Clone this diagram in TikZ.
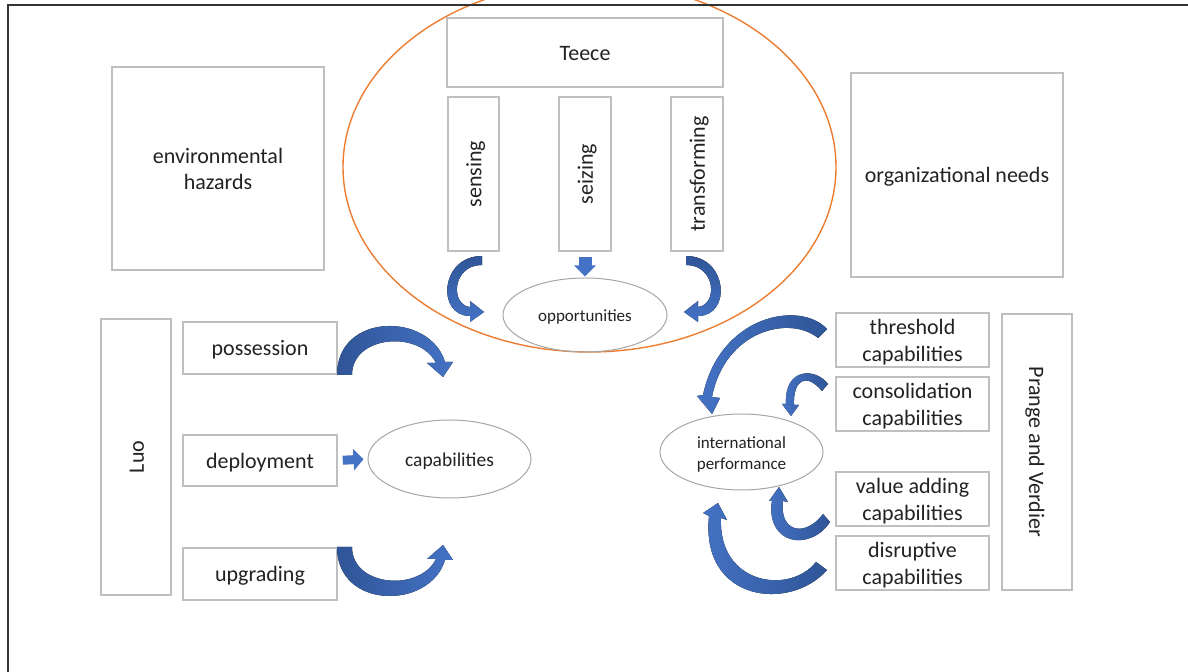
\documentclass[tikz,border=0pt]{standalone}
\usepackage{fontspec}
\setmainfont{Carlito}
\usetikzlibrary{shapes.geometric,arrows.meta}
\definecolor{boxgray}{HTML}{BFBFBF}
\definecolor{ellgray}{HTML}{A6A6A6}
\definecolor{orangeline}{HTML}{ED7D31}
\definecolor{bdark}{HTML}{2F5597}
\definecolor{blight}{HTML}{4472C4}
\definecolor{txt}{HTML}{222222}
\definecolor{framegray}{HTML}{333333}
\newcommand{\boxtext}[1]{\raisebox{-1.3pt}[\height][\depth]{\begin{tabular}{@{}c@{}}#1\end{tabular}}}
\tikzset{
  box/.style={draw=boxgray, line width=0.75pt, rectangle, inner sep=0pt, text=txt,
    font=\fontsize{11}{13.4}\selectfont, align=center},
  ell/.style={draw=ellgray, line width=0.5pt, ellipse, inner sep=0pt, text=txt, align=center},
  smalltext/.style={font=\fontsize{8.5}{10.3}\selectfont},
  captext/.style={font=\fontsize{9.75}{11.8}\selectfont},
  blockarrow/.style={draw=blight},
  leftrightshade/.style={left color=bdark, right color=blight},
  rightleftshade/.style={left color=blight, right color=bdark},
  topdownshade/.style={top color=bdark, bottom color=blight},
}
\begin{document}
\begin{tikzpicture}[x=0.5pt,y=-0.5pt]
\useasboundingbox (0,0) rectangle (1188,672);
\fill[white] (0,0) rectangle (1188,672);

% Teece group ellipse
\node[draw=orangeline, line width=0.7pt, ellipse, inner sep=0pt,
      minimum width=246.5pt, minimum height=185pt] (teecegroup) at (589.5,167) {};

% outer frame (only top and left edges visible)
\draw[framegray, line width=1pt] (7.5,672) -- (7.5,5.5) -- (1188,5.5);

% boxes
\node[box, minimum width=106pt, minimum height=101.5pt] (env) at (218,168.5) {\boxtext{environmental\\hazards}};
\node[box, minimum width=138pt, minimum height=34.5pt] (teece) at (585,52.5) {\boxtext{Teece}};
\node[box, rotate=90, minimum width=77pt, minimum height=25.5pt] (sensing) at (473.5,174) {\boxtext{sensing}};
\node[box, rotate=90, minimum width=77pt, minimum height=26pt] (seizing) at (585,174) {\boxtext{seizing}};
\node[box, rotate=90, minimum width=77pt, minimum height=26pt] (transforming) at (697,174) {\boxtext{transforming}};
\node[box, minimum width=106pt, minimum height=102pt] (org) at (957,175) {\boxtext{organizational needs}};

\node[box, rotate=90, minimum width=138pt, minimum height=35pt] (luo) at (136,457) {\boxtext{Luo}};
\node[box, minimum width=77pt, minimum height=26pt] (possession) at (260,348) {\boxtext{possession}};
\node[box, minimum width=77pt, minimum height=25.5pt] (deployment) at (260,460.5) {\boxtext{deployment}};
\node[box, minimum width=77pt, minimum height=26pt] (upgrading) at (260,574) {\boxtext{upgrading}};

\node[box, minimum width=76.5pt, minimum height=26pt] (threshold) at (912.5,340) {\boxtext{threshold\\capabilities}};
\node[box, minimum width=76.5pt, minimum height=26pt] (consolidation) at (912.5,404) {\boxtext{consolidation\\capabilities}};
\node[box, minimum width=76.5pt, minimum height=26pt] (valueadding) at (912.5,499) {\boxtext{value adding\\capabilities}};
\node[box, minimum width=76.5pt, minimum height=26pt] (disruptive) at (912.5,563) {\boxtext{disruptive\\capabilities}};
\node[box, rotate=-90, minimum width=138pt, minimum height=35pt] (prange) at (1037,452) {\boxtext{Prange and Verdier}};

% ellipses
\node[ell, smalltext, minimum width=82pt, minimum height=37pt] (opp) at (585,315) {\boxtext{opportunities}};
\node[ell, captext, minimum width=81.5pt, minimum height=39pt] (cap) at (449.5,459) {\boxtext{capabilities}};
\node[ell, smalltext, minimum width=81.5pt, minimum height=38pt] (perf) at (741.5,452) {\boxtext{international\\performance}};

% straight block arrows
\draw[blockarrow, line width=6.5pt, -{Triangle[length=5.5pt, width=10.5pt]},
      shorten <=2.5pt, shorten >=0.5pt] (seizing.west) -- (opp.north);
\draw[blockarrow, line width=4.5pt, -{Triangle[length=5pt, width=10.5pt]},
      shorten <=2.5pt, shorten >=2pt] (deployment.east) -- (cap.west);

% curved block arrows: Teece
\fill[topdownshade] (482,256) .. controls (440,256) and (436,316) .. (470,316)
  -- (470,322) -- (484,312) -- (470,301) -- (470,307)
  .. controls (450,305) and (452,265) .. (482,265) -- cycle;
\fill[topdownshade] (686,256) .. controls (728,256) and (732,316) .. (698,316)
  -- (698,322) -- (684,312) -- (698,301) -- (698,307)
  .. controls (718,305) and (716,265) .. (686,265) -- cycle;

% curved block arrows: Luo
\fill[leftrightshade] (337,375) .. controls (337,312) and (430,312) .. (445,362)
  -- (453,362) -- (443,377) -- (427,363) -- (436,363)
  .. controls (420,330) and (352,335) .. (352,375) -- cycle;
\fill[leftrightshade] (337,547) .. controls (337,610) and (430,610) .. (445,560)
  -- (453,560) -- (443,545) -- (427,559) -- (436,559)
  .. controls (420,592) and (352,587) .. (352,547) -- cycle;

% curved block arrows: Prange and Verdier
\fill[rightleftshade] (827,329) .. controls (800,300) and (720,315) .. (703,395)
  -- (697,396) -- (712,414) -- (720,398) -- (712,397)
  .. controls (725,330) and (790,315) .. (818,338) -- cycle;
\fill[rightleftshade] (828,384) .. controls (815,367) and (784,368) .. (786,404)
  -- (782,404) -- (791,416) -- (799,405) -- (794,405)
  .. controls (793,380) and (806,372) .. (822,391) -- cycle;
\fill[rightleftshade] (830,522) .. controls (810,552) and (765,545) .. (772,500)
  -- (769,501) -- (779,487) -- (788,502) -- (783,501)
  .. controls (779,532) and (805,538) .. (823,514) -- cycle;
\fill[rightleftshade] (827,570) .. controls (790,612) and (700,602) .. (709,516)
  -- (703,513) -- (718,503) -- (727,520) -- (721,518)
  .. controls (718,585) and (790,595) .. (816,562) -- cycle;
\end{tikzpicture}
\end{document}
